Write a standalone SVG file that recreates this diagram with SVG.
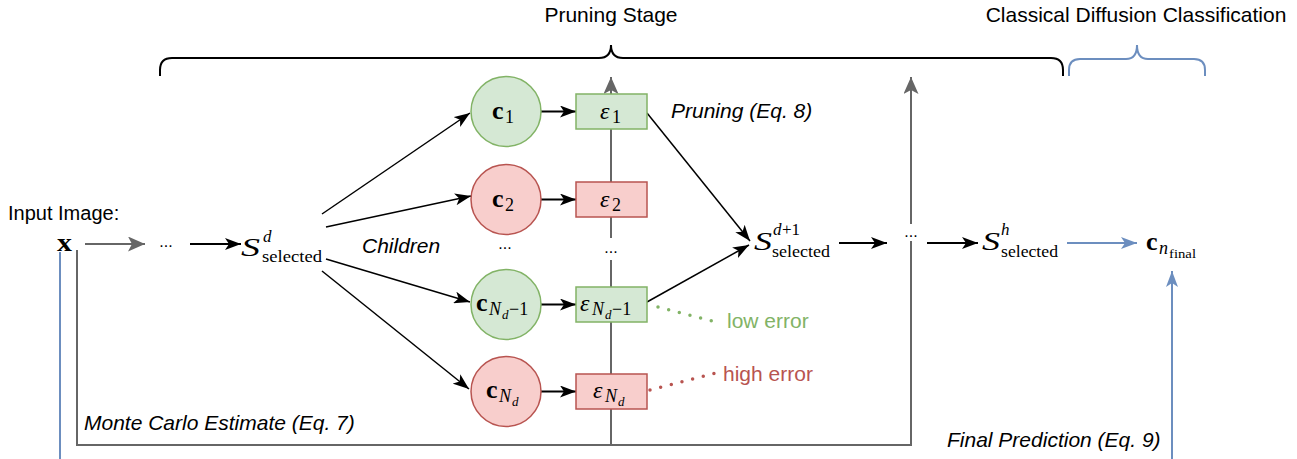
<svg xmlns="http://www.w3.org/2000/svg" width="1297" height="459" viewBox="0 0 1297 459">
  <style>
    .lbl { font-family: "Liberation Sans", Arial, sans-serif; font-size: 21px; fill: #000; }
    .it { font-style: italic; }
    .m { font-family: "Liberation Serif", "Times New Roman", serif; fill: #000; }
    .mi { font-family: "Liberation Serif", "Times New Roman", serif; font-style: italic; fill: #000; }
    .mb { font-family: "Liberation Serif", "Times New Roman", serif; font-weight: bold; fill: #000; }
    .dots { font-family: "Liberation Sans", Arial, sans-serif; font-size: 16px; fill: #000; text-anchor: middle; }
    .good { fill: #d5e8d4; stroke: #82b366; stroke-width: 1.5; }
    .bad { fill: #f8cecc; stroke: #b85450; stroke-width: 1.5; }
    .thick { stroke: #000; stroke-width: 2; fill: none; marker-end: url(#ahBlack); }
    .thin { stroke: #000; stroke-width: 1.5; fill: none; marker-end: url(#ahBlack); }
    .gray { stroke: #666; stroke-width: 2; fill: none; }
    .blue { stroke: #6c8ebf; stroke-width: 2; fill: none; }
  </style>
  <defs>
    <marker id="ahBlack" markerUnits="userSpaceOnUse" markerWidth="16" markerHeight="12" viewBox="0 0 16 12" refX="16" refY="6" orient="auto">
      <path d="M0,0 L16,6 L0,12 L4,6 Z" fill="#000"/>
    </marker>
    <marker id="ahGray" markerUnits="userSpaceOnUse" markerWidth="17" markerHeight="15" viewBox="0 0 17 15" refX="17" refY="7.5" orient="auto">
      <path d="M0,0 L17,7.5 L0,15 L4,7.5 Z" fill="#666"/>
    </marker>
    <marker id="ahBlue" markerUnits="userSpaceOnUse" markerWidth="16" markerHeight="12" viewBox="0 0 16 12" refX="16" refY="6" orient="auto">
      <path d="M0,0 L16,6 L0,12 L4,6 Z" fill="#6c8ebf"/>
    </marker>
  </defs>

  <rect width="1297" height="459" fill="#fff"/>

  <!-- stage braces and titles -->
  <g id="stage-braces">
    <path d="M160,76 L160,70 Q160,58 172,58 L599,58 Q611,58 611,45 Q611,58 623,58 L1051,58 Q1063,58 1063,70 L1063,76" fill="none" stroke="#000" stroke-width="2"/>
    <path d="M1069,76 L1069,70 Q1069,59 1080,59 L1126,59 Q1137,59 1137,45 Q1137,59 1148,59 L1194,59 Q1205,59 1205,70 L1205,76" fill="none" stroke="#6c8ebf" stroke-width="2"/>
    <text class="lbl" x="611" y="22" text-anchor="middle">Pruning Stage</text>
    <text class="lbl" x="1136" y="22" text-anchor="middle">Classical Diffusion Classification</text>
  </g>

  <!-- connectors -->
  <g id="connectors">
    <!-- Monte Carlo feedback and score lines -->
    <path class="gray" d="M77,250 V445 H911 V77" marker-end="url(#ahGray)"/>
    <path class="gray" d="M611,445 V77" marker-end="url(#ahGray)"/>
    <!-- final prediction path -->
    <path class="blue" d="M60,252 V459"/>
    <path class="blue" d="M1172,459 V271" marker-end="url(#ahBlue)"/>
    <path class="blue" d="M1067,243 H1137" marker-end="url(#ahBlue)"/>
    <!-- main chain -->
    <path class="gray" d="M85,244 H145" marker-end="url(#ahGray)"/>
    <path class="thick" d="M190,244 H241"/>
    <path class="thick" d="M839,243 H887"/>
    <path class="thick" d="M927,243 H978"/>
    <!-- children -->
    <path class="thin" d="M322,214 L470,113"/>
    <path class="thin" d="M326,227 L471,196"/>
    <path class="thin" d="M326,259 L470,302"/>
    <path class="thin" d="M322,271 L469,389"/>
    <!-- child to error -->
    <path class="thick" d="M541,111.5 H576"/>
    <path class="thick" d="M541,199.5 H576"/>
    <path class="thick" d="M541,304.5 H576"/>
    <path class="thick" d="M541,391.5 H576"/>
    <!-- pruning -->
    <path class="thin" d="M647,113 L750,241"/>
    <path class="thin" d="M647,302 L749,245"/>
    <!-- error annotations -->
    <path d="M658,307 L716,322" fill="none" stroke="#82b366" stroke-width="3.5" stroke-linecap="round" stroke-dasharray="0 11"/>
    <path d="M650,390 L716,373" fill="none" stroke="#b85450" stroke-width="3.5" stroke-linecap="round" stroke-dasharray="0 11"/>
  </g>

  <!-- input -->
  <g id="input">
    <text class="lbl" x="8" y="220" style="font-size:20px">Input Image:</text>
    <text class="mb" x="57" y="251" font-size="26" textLength="15" lengthAdjust="spacingAndGlyphs">x</text>
  </g>

  <g id="ellipsis-1"><text class="dots" x="166" y="247">...</text></g>

  <g id="set-d">
    <text class="mi" x="241" y="256" font-size="25" textLength="19" lengthAdjust="spacingAndGlyphs">S</text>
    <text class="mi" x="263" y="242" font-size="17">d</text>
    <text class="m" x="262" y="262" font-size="17" textLength="60" lengthAdjust="spacingAndGlyphs">selected</text>
  </g>

  <g id="children-label"><text class="lbl it" x="362" y="253">Children</text></g>

  <!-- children nodes -->
  <g id="child-1">
    <circle class="good" cx="506" cy="111.5" r="35"/>
    <text class="mb" x="492" y="119" font-size="26">c</text>
    <text class="m" x="505" y="123" font-size="18">1</text>
  </g>
  <g id="child-2">
    <circle class="bad" cx="506" cy="199.5" r="35"/>
    <text class="mb" x="492" y="207" font-size="26">c</text>
    <text class="m" x="505" y="211" font-size="18">2</text>
  </g>
  <g id="ellipsis-children"><text class="dots" x="505" y="249">...</text></g>
  <g id="child-nd-1">
    <circle class="good" cx="506" cy="304.5" r="35"/>
    <text class="mb" x="476" y="311" font-size="26">c</text>
    <text class="mi" x="489" y="315" font-size="18">N</text>
    <text class="mi" x="502" y="319" font-size="13">d</text>
    <text class="m" x="509" y="315" font-size="18">−1</text>
  </g>
  <g id="child-nd">
    <circle class="bad" cx="506" cy="391.5" r="35"/>
    <text class="mb" x="486" y="398" font-size="26">c</text>
    <text class="mi" x="499" y="402" font-size="18">N</text>
    <text class="mi" x="512" y="406" font-size="13">d</text>
  </g>

  <!-- error nodes -->
  <g id="err-1">
    <rect class="good" x="576" y="94" width="71" height="35"/>
    <text class="mi" x="600" y="119" font-size="24">ε</text>
    <text class="m" x="612" y="123" font-size="18">1</text>
  </g>
  <g id="err-2">
    <rect class="bad" x="576" y="182" width="71" height="35"/>
    <text class="mi" x="600" y="207" font-size="24">ε</text>
    <text class="m" x="612" y="211" font-size="18">2</text>
  </g>
  <g id="ellipsis-errors">
    <rect x="601" y="238" width="20" height="22" fill="#fff"/>
    <text class="dots" x="611" y="253">...</text>
  </g>
  <g id="err-nd-1">
    <rect class="good" x="576" y="287" width="71" height="35"/>
    <text class="mi" x="580" y="311" font-size="24">ε</text>
    <text class="mi" x="592" y="315" font-size="18">N</text>
    <text class="mi" x="605" y="319" font-size="13">d</text>
    <text class="m" x="612" y="315" font-size="18">−1</text>
  </g>
  <g id="err-nd">
    <rect class="bad" x="576" y="374" width="71" height="35"/>
    <text class="mi" x="593" y="398" font-size="24">ε</text>
    <text class="mi" x="605" y="402" font-size="18">N</text>
    <text class="mi" x="618" y="406" font-size="13">d</text>
  </g>

  <g id="pruning-label"><text class="lbl it" x="671" y="118">Pruning (Eq. 8)</text></g>
  <g id="low-error"><text class="lbl" x="727" y="328" style="fill:#82b366">low error</text></g>
  <g id="high-error"><text class="lbl" x="723" y="381" style="fill:#b85450">high error</text></g>

  <g id="set-d1">
    <text class="mi" x="754" y="250" font-size="25" textLength="18" lengthAdjust="spacingAndGlyphs">S</text>
    <text class="mi" x="773" y="235" font-size="17">d</text>
    <text class="m" x="782" y="235" font-size="17">+1</text>
    <text class="m" x="772" y="257" font-size="17" textLength="58" lengthAdjust="spacingAndGlyphs">selected</text>
  </g>

  <g id="ellipsis-depth">
    <rect x="900" y="224" width="22" height="17" fill="#fff"/>
    <text class="dots" x="911" y="237">...</text>
  </g>

  <g id="set-h">
    <text class="mi" x="982" y="250" font-size="25" textLength="18" lengthAdjust="spacingAndGlyphs">S</text>
    <text class="mi" x="1001" y="235" font-size="17">h</text>
    <text class="m" x="1001" y="257" font-size="17" textLength="57" lengthAdjust="spacingAndGlyphs">selected</text>
  </g>

  <g id="final-class">
    <text class="mb" x="1146" y="250" font-size="26">c</text>
    <text class="mi" x="1159" y="254" font-size="18">n</text>
    <text class="m" x="1169" y="258" font-size="13" textLength="27" lengthAdjust="spacingAndGlyphs">final</text>
  </g>

  <g id="mc-label"><text class="lbl it" x="84" y="430">Monte Carlo Estimate (Eq. 7)</text></g>
  <g id="final-label"><text class="lbl it" x="947" y="447">Final Prediction (Eq. 9)</text></g>
</svg>
